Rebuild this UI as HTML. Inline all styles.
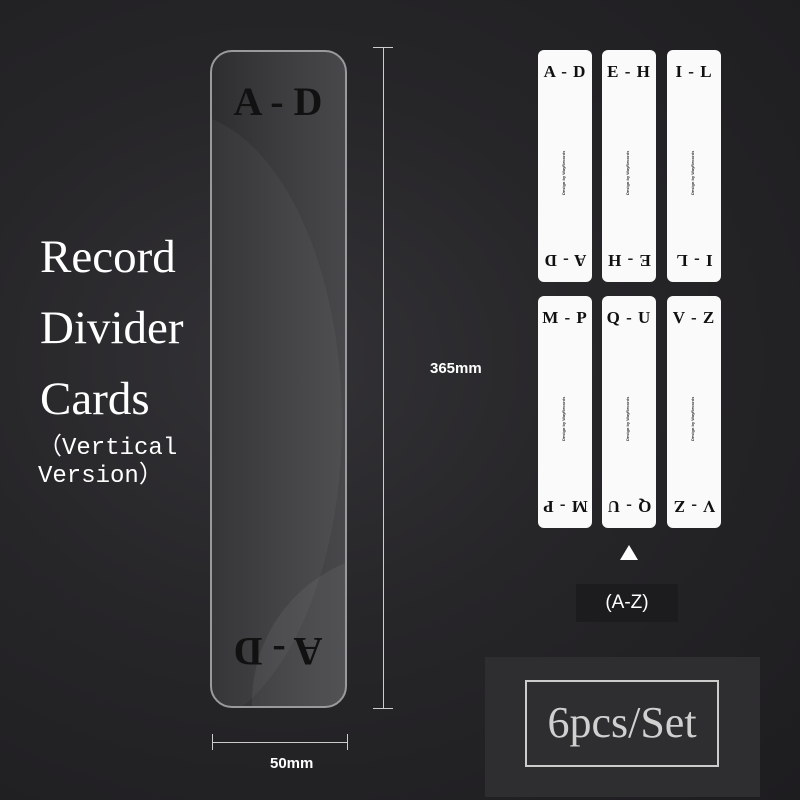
<!DOCTYPE html>
<html><head><meta charset="utf-8"><style>
*{margin:0;padding:0;box-sizing:border-box}
html,body{width:800px;height:800px;overflow:hidden}
body{position:relative;background:radial-gradient(ellipse at 35% 45%,#333236 0%,#262528 45%,#1d1c1f 100%);font-family:"Liberation Sans",sans-serif}
.a{position:absolute}
.big{left:210px;top:50px;width:137px;height:658px;border:2px solid #9a9a9c;border-radius:22px;background:linear-gradient(90deg,#2e2e31 0%,#3c3c3f 50%,#48484b 100%);overflow:hidden}
.bl{font-family:"Liberation Serif",serif;font-weight:bold;font-size:40px;color:#111;width:120px;text-align:center;white-space:nowrap}
.card{width:54px;height:232px;background:#fafafa;border-radius:6px;overflow:hidden}
.card .t,.card .b{position:absolute;left:0;width:100%;text-align:center;font-family:"Liberation Serif",serif;font-weight:bold;font-size:17px;color:#111;letter-spacing:1px;white-space:nowrap}
.card .t{top:12px}.card .b{bottom:12px;transform:rotate(180deg)}
.card .m{position:absolute;left:23px;top:85px;font-size:4px;font-weight:bold;color:#333;writing-mode:vertical-rl;transform:rotate(180deg);height:60px}
.title{font-family:"Liberation Serif",serif;color:#fff;font-size:47px;line-height:71px}
</style></head><body>
<div class="a big">
<div class="a" style="left:-200px;top:60px;width:330px;height:620px;border-radius:50%;background:rgba(255,255,255,0.04)"></div>
<div class="a" style="left:40px;top:500px;width:300px;height:300px;border-radius:50%;background:rgba(255,255,255,0.06)"></div>
</div>
<div class="a bl" style="left:218px;top:78px">A - D</div>
<div class="a bl" style="left:218px;top:628px;transform:rotate(180deg)">A - D</div>
<div class="a" style="left:383px;top:47px;width:1px;height:661px;background:#ccc"></div>
<div class="a" style="left:373px;top:47px;width:20px;height:1px;background:#ccc"></div>
<div class="a" style="left:373px;top:708px;width:20px;height:1px;background:#ccc"></div>
<div class="a" style="left:212px;top:742px;width:135px;height:1px;background:#ccc"></div>
<div class="a" style="left:212px;top:734px;width:1px;height:16px;background:#ccc"></div>
<div class="a" style="left:347px;top:734px;width:1px;height:16px;background:#ccc"></div>
<div class="a" style="left:270px;top:755px;color:#fff;font-weight:bold;font-size:15px">50mm</div>
<div class="a" style="left:430px;top:360px;color:#fff;font-weight:bold;font-size:15px">365mm</div>
<div class="a title" style="left:40px;top:222px">Record<br>Divider<br>Cards</div>
<div class="a" style="left:38px;top:435px;color:#fff;font-family:'Liberation Mono',monospace;font-size:24px;line-height:28px">（Vertical<br>Version）</div>
<div class="a card" style="left:538px;top:50px"><div class="t">A - D</div><div class="m">Design by WayRecords</div><div class="b">A - D</div></div>
<div class="a card" style="left:602px;top:50px"><div class="t">E - H</div><div class="m">Design by WayRecords</div><div class="b">E - H</div></div>
<div class="a card" style="left:667px;top:50px"><div class="t">I - L</div><div class="m">Design by WayRecords</div><div class="b">I - L</div></div>
<div class="a card" style="left:538px;top:296px"><div class="t">M - P</div><div class="m">Design by WayRecords</div><div class="b">M - P</div></div>
<div class="a card" style="left:602px;top:296px"><div class="t">Q - U</div><div class="m">Design by WayRecords</div><div class="b">Q - U</div></div>
<div class="a card" style="left:667px;top:296px"><div class="t">V - Z</div><div class="m">Design by WayRecords</div><div class="b">V - Z</div></div>
<div class="a" style="left:620px;top:545px;width:0;height:0;border-left:9px solid transparent;border-right:9px solid transparent;border-bottom:15px solid #fff"></div>
<div class="a" style="left:576px;top:584px;width:102px;height:38px;background:#1c1c1e;color:#fff;font-size:19px;text-align:center;line-height:38px">(A-Z)</div>
<div class="a" style="left:485px;top:657px;width:275px;height:140px;background:#2e2e30"></div>
<div class="a" style="left:525px;top:680px;width:194px;height:87px;border:2px solid #ccc;color:#d0d0d0;font-family:'Liberation Serif',serif;font-size:44px;text-align:center;line-height:82px">6pcs/Set</div>
</body></html>
